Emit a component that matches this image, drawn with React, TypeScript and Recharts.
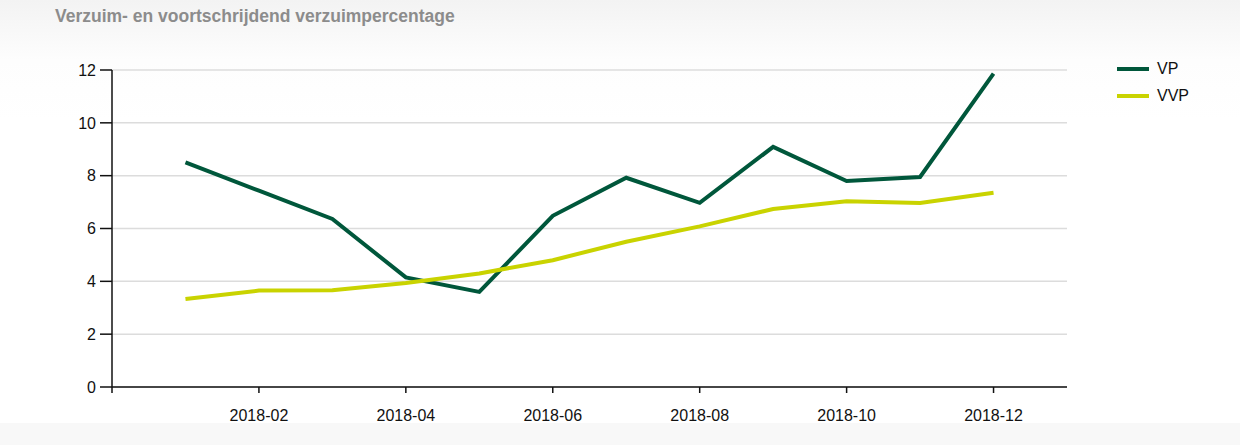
import { LineChart, Line, XAxis, YAxis, CartesianGrid } from "recharts";

const months = [
  "2018-01", "2018-02", "2018-03", "2018-04", "2018-05", "2018-06",
  "2018-07", "2018-08", "2018-09", "2018-10", "2018-11", "2018-12",
];
const vp = [8.5, 7.43, 6.36, 4.15, 3.6, 6.48, 7.92, 6.97, 9.09, 7.8, 7.95, 11.86];
const vvp = [3.33, 3.65, 3.66, 3.94, 4.3, 4.8, 5.5, 6.08, 6.74, 7.03, 6.97, 7.35];
const xTicks = [0, 2, 4, 6, 8, 10, 12];
const yTicks = [0, 2, 4, 6, 8, 10, 12];

const series = [
  { key: "VP", color: "#00573b" },
  { key: "VVP", color: "#c9d300" },
];

const data = months.map((label, i) => ({
  m: i + 1,
  label,
  VP: vp[i],
  VVP: vvp[i],
}));

const font = "'Liberation Sans', Arial, sans-serif";

export default function App() {
  return (
    <div
      style={{
        position: "absolute",
        left: 0,
        top: 0,
        width: 1240,
        height: 445,
        background: "linear-gradient(#f3f3f3 0px, #fdfdfd 60px, #ffffff 120px)",
        fontFamily: font,
      }}
    >
      <div
        style={{
          position: "absolute",
          left: 55,
          top: 6,
          fontSize: 17.5,
          fontWeight: "bold",
          color: "#8c8c8c",
        }}
      >
        Verzuim- en voortschrijdend verzuimpercentage
      </div>
      <div style={{ position: "absolute", left: 0, bottom: 0, width: 1240, height: 22, background: "#f8f8f8" }} />
      <div style={{ position: "absolute", left: 1117, top: 55, fontSize: 16, color: "#111" }}>
        {series.map((s) => (
          <div key={s.key} style={{ display: "flex", alignItems: "center", height: 27 }}>
            <span style={{ display: "inline-block", width: 32, height: 4, background: s.color, marginRight: 8 }} />
            {s.key}
          </div>
        ))}
      </div>
      <LineChart
        width={1240}
        height={445}
        data={data}
        margin={{ top: 70, right: 173, bottom: 28, left: 0 }}
        style={{ position: "absolute", left: 0, top: 0 }}
      >
        <CartesianGrid vertical={false} stroke="#dcdcdc" strokeWidth={1.5} />
        <XAxis
          type="number"
          dataKey="m"
          domain={[0, 13]}
          ticks={xTicks}
          tickFormatter={(v: number) => (v === 0 ? "" : months[v - 1])}
          tick={{ fill: "#111", fontSize: 16, fontFamily: font }}
          tickSize={6}
          tickMargin={17}
          stroke="#111"
          strokeWidth={1.5}
          interval={0}
        />
        <YAxis
          width={112}
          domain={[0, 12]}
          ticks={yTicks}
          tick={{ fill: "#111", fontSize: 16, fontFamily: font }}
          tickSize={12}
          tickMargin={4}
          stroke="#111"
          strokeWidth={1.5}
          interval={0}
        />
        {series.map((s) => (
          <Line
            key={s.key}
            type="linear"
            dataKey={s.key}
            stroke={s.color}
            strokeWidth={4}
            dot={false}
            isAnimationActive={false}
          />
        ))}
      </LineChart>
    </div>
  );
}
